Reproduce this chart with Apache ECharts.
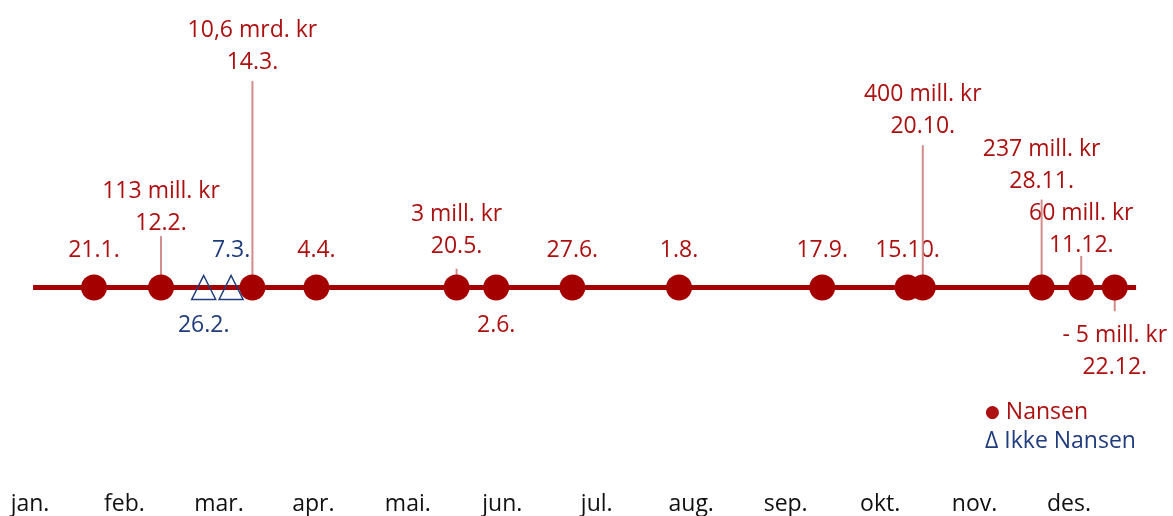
<!DOCTYPE html>
<html><head><meta charset="utf-8">
<script src="https://cdn.jsdelivr.net/npm/echarts@6/dist/echarts.min.js"></script>
<style>html,body{margin:0;padding:0;background:#fff}#c{width:1173px;height:516px}</style>
</head><body><div id="c"></div>
<script>
// ---- data ----
const months = ['jan.','feb.','mar.','apr.','mai.','jun.','jul.','aug.','sep.','okt.','nov.','des.'];
const nansenDates = ['21.1.','12.2.','14.3.','4.4.','20.5.','2.6.','27.6.','1.8.','17.9.','15.10.','20.10.','28.11.','11.12.','22.12.'];
const nansenAmounts = ['','113 mill. kr','10,6 mrd. kr','','3 mill. kr','','','','','','400 mill. kr','237 mill. kr','60 mill. kr','- 5 mill. kr'];
const ikkeDates = ['26.2.','7.3.'];
const timelineDays = [1, 363];

// ---- layout (label lift / leader-line top, in px above the timeline) ----
const nansenLabelLift = [37,65,228,37,42,-38,37,37,37,37,163,107,43,-81];
const nansenLeaderTop = [0,52,209,0,19,0,0,0,0,0,144,89,32,-24];
const ikkeLabelLift = [-38,37];

const RED = '#a50000', TXT_RED = '#ad1010', BLUE = '#203c7c', LEAD = '#d28c8c';
const FONT = 'Open Sans';
const FS = 23;
const monthLen = [31,28,31,30,31,30,31,31,30,31,30,31];
function dayOfYear(s){ const p = s.split('.'); const d = +p[0], m = +p[1]; let n = d; for (let i=0;i<m-1;i++) n += monthLen[i]; return n; }

const nansenDays = nansenDates.map(dayOfYear);
const ikkeDays = ikkeDates.map(dayOfYear);

function labelRender(dates, amounts, lifts, leads, color){
  return function(params, api){
    const i = params.dataIndex;
    const x = api.value(0);
    const children = [];
    const base = api.coord([x, 0]);
    if (leads && leads[i] !== 0){
      const t = api.coord([x, leads[i]]);
      children.push({type:'line', shape:{x1:base[0], y1:base[1], x2:t[0], y2:t[1]}, style:{stroke:LEAD, lineWidth:2}, z2:1});
    }
    const lp = api.coord([x, lifts[i]]);
    children.push({type:'text', x:lp[0], y:lp[1], style:{text:dates[i], fill:color, font:FS+'px "'+FONT+'"', align:'center', verticalAlign:'middle'}});
    if (amounts && amounts[i]){
      children.push({type:'text', x:lp[0], y:lp[1]-32, style:{text:amounts[i], fill:color, font:FS+'px "'+FONT+'"', align:'center', verticalAlign:'middle'}});
    }
    return {type:'group', children};
  };
}

const chart = echarts.init(document.getElementById('c'), null, {renderer:'canvas'});
chart.setOption({
  animation:false,
  backgroundColor:'#fff',
  grid:{left:30, right:9.5, top:2, bottom:22, containLabel:false},
  xAxis:{type:'value', min:0, max:372, interval:31,
    axisLine:{show:false}, axisTick:{show:false}, splitLine:{show:false},
    axisLabel:{margin:3, color:'#111', fontSize:FS, fontFamily:FONT, showMaxLabel:false,
      formatter:v => months[Math.round(v/31)] || ''}},
  yAxis:{type:'value', min:-205, max:289, show:false},
  series:[
    {type:'line', data:timelineDays.map(d=>[d,0]), symbol:'none', lineStyle:{color:RED, width:5}, z:1, silent:true},
    {type:'custom', data:nansenDays.map(d=>[d,0]), renderItem:labelRender(nansenDates, nansenAmounts, nansenLabelLift, nansenLeaderTop, TXT_RED), z:2, silent:true},
    {type:'custom', data:ikkeDays.map(d=>[d,0]), renderItem:labelRender(ikkeDates, null, ikkeLabelLift, null, BLUE), z:2, silent:true},
    {type:'scatter', name:'Nansen', data:nansenDays.map(d=>[d,0]), symbol:'circle', symbolSize:26, itemStyle:{color:RED, opacity:1}, z:5},
    {type:'scatter', name:'Ikke Nansen', data:ikkeDays.map(d=>[d,0]), symbol:'triangle', symbolSize:[24,24], itemStyle:{color:'rgba(0,0,0,0)', borderColor:BLUE, borderWidth:1.5, opacity:1}, z:5}
  ],
  graphic:[
    {type:'text', left:985, top:401, style:{text:'{d|●} Nansen', fill:TXT_RED, font:FS+'px "'+FONT+'"', rich:{d:{fontSize:17, fill:TXT_RED, fontFamily:'DejaVu Sans'}}}},
    {type:'text', left:985, top:430, style:{text:'Δ Ikke Nansen', fill:BLUE, font:FS+'px "'+FONT+'"'}}
  ]
});
</script></body></html>
